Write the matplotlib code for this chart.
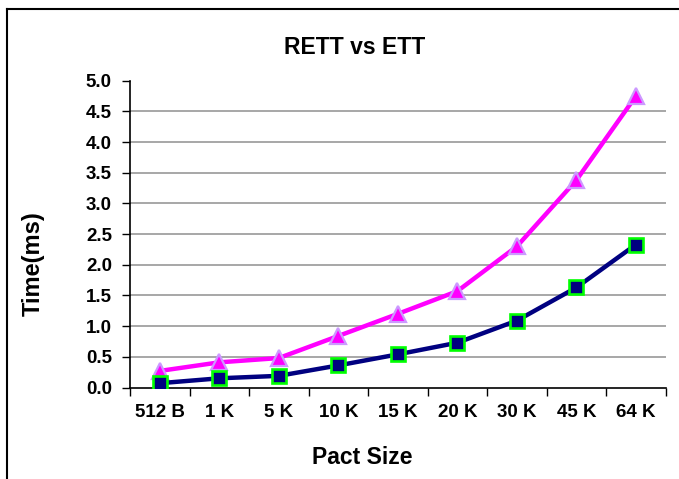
import matplotlib
matplotlib.use("Agg")
import matplotlib.pyplot as plt
from matplotlib.lines import Line2D

categories = ["512 B", "1 K", "5 K", "10 K", "15 K", "20 K", "30 K", "45 K", "64 K"]
rett = [0.27, 0.41, 0.48, 0.84, 1.20, 1.57, 2.30, 3.38, 4.75]
ett = [0.07, 0.15, 0.19, 0.36, 0.54, 0.73, 1.09, 1.63, 2.33]
yticks = [0.0, 0.5, 1.0, 1.5, 2.0, 2.5, 3.0, 3.5, 4.0, 4.5, 5.0]

plt.rcParams['font.family'] = ['Liberation Sans', 'DejaVu Sans']
plt.rcParams['font.weight'] = 'bold'

fig = plt.figure(figsize=(6.79, 4.79), dpi=100)
ax = fig.add_axes([130/679, 1-387.5/479, (665.7-130)/679, (387.5-80.7)/479])

x = list(range(len(categories)))
ax.plot(x, rett, color='#FF00FF', lw=3.2, marker='^', markersize=11,
        markerfacecolor='#FF00FF', markeredgecolor='#CC99FF', markeredgewidth=1.6, zorder=3)
ax.plot(x, ett, color='#000080', lw=3.2, marker='s', markersize=10,
        markerfacecolor='#000080', markeredgecolor='#00FF00', markeredgewidth=1.9, zorder=4)

ax.set_xlim(-0.5, len(categories) - 0.5)
ax.set_ylim(0, 5.0)
ax.set_yticks(yticks)
ax.set_yticklabels([f"{v:.1f}" for v in yticks])
ax.set_xticks(x)
ax.set_xticklabels(categories)
ax.set_xticks([i - 0.5 for i in range(len(categories) + 1)], minor=True)
ax.tick_params(axis='x', which='major', length=0, pad=12, labelsize=13.5)
ax.tick_params(axis='x', which='minor', length=6, width=1, direction='out')
ax.tick_params(axis='y', length=6, width=1, direction='out', labelsize=13.5, pad=7)

for v in yticks[1:-1]:
    ax.axhline(v, color='#A0A0A0', lw=1.3, zorder=1)

for s in ['top', 'right']:
    ax.spines[s].set_visible(False)
for s in ['left', 'bottom']:
    ax.spines[s].set_linewidth(1.2)
    ax.spines[s].set_color('black')

for lab in ax.get_xticklabels() + ax.get_yticklabels():
    lab.set_fontweight('bold')

fig.text(355/679, 1-47/479, "RETT vs ETT", ha='center', va='center', fontsize=16.5, fontweight='bold')
fig.text(362/679, 1-458/479, "Pact Size", ha='center', va='center', fontsize=16.5, fontweight='bold')
fig.text(33/679, 1-264/479, "Time(ms)", ha='center', va='center', rotation=90, fontsize=17, fontweight='bold')

# figure frame (left and top edges visible)
fig.add_artist(Line2D([7/679, 7/679], [0, 1-9/479], transform=fig.transFigure, color='black', lw=1.5))
fig.add_artist(Line2D([7/679, 1], [1-9/479, 1-9/479], transform=fig.transFigure, color='black', lw=1.5))

fig.savefig("out.png", dpi=100)
